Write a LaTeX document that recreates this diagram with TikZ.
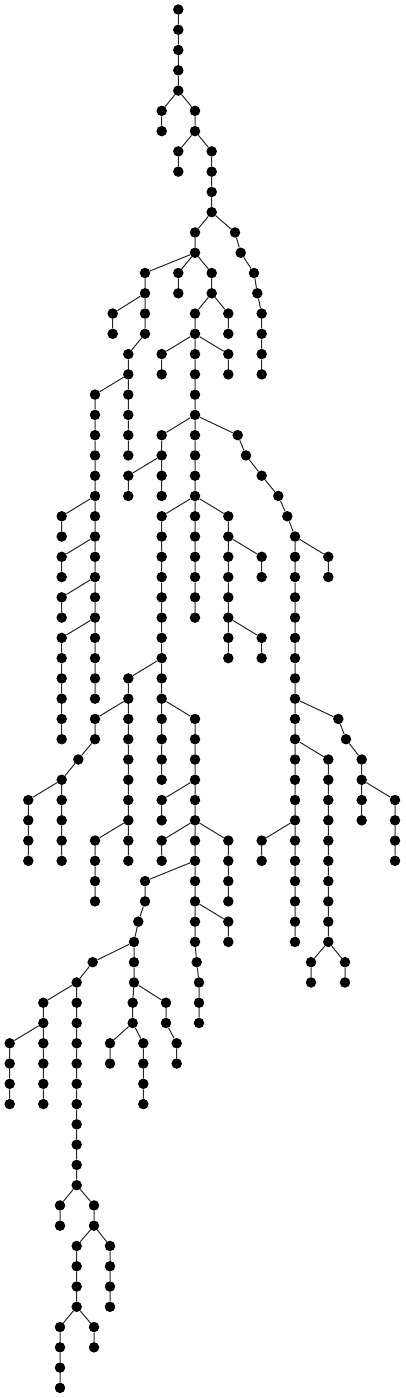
\documentclass[tikz,border=0pt]{standalone}
\usepackage{tikz}
\begin{document}
\begin{tikzpicture}[
    x=1pt, y=-20.27pt,
    dot/.style={circle, fill=black, inner sep=0pt, minimum size=10.5pt},
    link/.style={line width=1pt, draw=black!85}
]
\useasboundingbox (0pt,9.5pt) rectangle (406pt,-1388.5pt);
\node[dot] (n0x178) at (178.3,0) {};
\node[dot] (n1x178) at (178.3,1) {};
\node[dot] (n2x178) at (178.3,2) {};
\node[dot] (n3x178) at (178.3,3) {};
\node[dot] (n4x178) at (178.3,4) {};
\node[dot] (n5x162) at (161.7,5) {};
\node[dot] (n5x195) at (195,5) {};
\node[dot] (n6x162) at (161.7,6) {};
\node[dot] (n6x195) at (195,6) {};
\node[dot] (n7x178) at (178.3,7) {};
\node[dot] (n7x212) at (211.7,7) {};
\node[dot] (n8x178) at (178.3,8) {};
\node[dot] (n8x212) at (211.7,8) {};
\node[dot] (n9x212) at (211.7,9) {};
\node[dot] (n10x212) at (211.7,10) {};
\node[dot] (n11x195) at (195,11) {};
\node[dot] (n11x235) at (235,11) {};
\node[dot] (n12x195) at (195,12) {};
\node[dot] (n12x241) at (240.7,12) {};
\node[dot] (n13x145) at (145,13) {};
\node[dot] (n13x178) at (178.3,13) {};
\node[dot] (n13x212) at (211.7,13) {};
\node[dot] (n13x254) at (254,13) {};
\node[dot] (n14x145) at (145,14) {};
\node[dot] (n14x178) at (178.3,14) {};
\node[dot] (n14x212) at (211.7,14) {};
\node[dot] (n14x258) at (257.3,14) {};
\node[dot] (n15x113) at (112.7,15) {};
\node[dot] (n15x145) at (145,15) {};
\node[dot] (n15x195) at (195,15) {};
\node[dot] (n15x228) at (228.3,15) {};
\node[dot] (n15x262) at (261.7,15) {};
\node[dot] (n16x113) at (112.7,16) {};
\node[dot] (n16x145) at (145,16) {};
\node[dot] (n16x195) at (195,16) {};
\node[dot] (n16x228) at (228.3,16) {};
\node[dot] (n16x262) at (261.7,16) {};
\node[dot] (n17x128) at (128.3,17) {};
\node[dot] (n17x162) at (161.7,17) {};
\node[dot] (n17x195) at (195,17) {};
\node[dot] (n17x228) at (228.3,17) {};
\node[dot] (n17x262) at (261.7,17) {};
\node[dot] (n18x128) at (128.3,18) {};
\node[dot] (n18x162) at (161.7,18) {};
\node[dot] (n18x195) at (195,18) {};
\node[dot] (n18x228) at (228.3,18) {};
\node[dot] (n18x262) at (261.7,18) {};
\node[dot] (n19x95) at (95,19) {};
\node[dot] (n19x128) at (128.3,19) {};
\node[dot] (n19x195) at (195,19) {};
\node[dot] (n20x95) at (95,20) {};
\node[dot] (n20x128) at (128.3,20) {};
\node[dot] (n20x195) at (195,20) {};
\node[dot] (n21x95) at (95,21) {};
\node[dot] (n21x128) at (128.3,21) {};
\node[dot] (n21x162) at (161.7,21) {};
\node[dot] (n21x195) at (195,21) {};
\node[dot] (n21x238) at (237.7,21) {};
\node[dot] (n22x95) at (95,22) {};
\node[dot] (n22x128) at (128.3,22) {};
\node[dot] (n22x162) at (161.7,22) {};
\node[dot] (n22x195) at (195,22) {};
\node[dot] (n22x246) at (246,22) {};
\node[dot] (n23x95) at (95,23) {};
\node[dot] (n23x128) at (128.3,23) {};
\node[dot] (n23x162) at (161.7,23) {};
\node[dot] (n23x195) at (195,23) {};
\node[dot] (n23x262) at (261.7,23) {};
\node[dot] (n24x95) at (95,24) {};
\node[dot] (n24x128) at (128.3,24) {};
\node[dot] (n24x162) at (161.7,24) {};
\node[dot] (n24x195) at (195,24) {};
\node[dot] (n24x278) at (278.3,24) {};
\node[dot] (n25x61) at (61.7,25) {};
\node[dot] (n25x95) at (95,25) {};
\node[dot] (n25x162) at (161.7,25) {};
\node[dot] (n25x195) at (195,25) {};
\node[dot] (n25x228) at (228.3,25) {};
\node[dot] (n25x287) at (287.3,25) {};
\node[dot] (n26x61) at (61.7,26) {};
\node[dot] (n26x95) at (95,26) {};
\node[dot] (n26x162) at (161.7,26) {};
\node[dot] (n26x195) at (195,26) {};
\node[dot] (n26x228) at (228.3,26) {};
\node[dot] (n26x295) at (295,26) {};
\node[dot] (n27x61) at (61.7,27) {};
\node[dot] (n27x95) at (95,27) {};
\node[dot] (n27x162) at (161.7,27) {};
\node[dot] (n27x195) at (195,27) {};
\node[dot] (n27x228) at (228.3,27) {};
\node[dot] (n27x262) at (261.7,27) {};
\node[dot] (n27x295) at (295,27) {};
\node[dot] (n27x328) at (328.3,27) {};
\node[dot] (n28x61) at (61.7,28) {};
\node[dot] (n28x95) at (95,28) {};
\node[dot] (n28x162) at (161.7,28) {};
\node[dot] (n28x195) at (195,28) {};
\node[dot] (n28x228) at (228.3,28) {};
\node[dot] (n28x262) at (261.7,28) {};
\node[dot] (n28x295) at (295,28) {};
\node[dot] (n28x328) at (328.3,28) {};
\node[dot] (n29x61) at (61.7,29) {};
\node[dot] (n29x95) at (95,29) {};
\node[dot] (n29x162) at (161.7,29) {};
\node[dot] (n29x195) at (195,29) {};
\node[dot] (n29x228) at (228.3,29) {};
\node[dot] (n29x295) at (295,29) {};
\node[dot] (n30x61) at (61.7,30) {};
\node[dot] (n30x95) at (95,30) {};
\node[dot] (n30x162) at (161.7,30) {};
\node[dot] (n30x195) at (195,30) {};
\node[dot] (n30x228) at (228.3,30) {};
\node[dot] (n30x295) at (295,30) {};
\node[dot] (n31x61) at (61.7,31) {};
\node[dot] (n31x95) at (95,31) {};
\node[dot] (n31x162) at (161.7,31) {};
\node[dot] (n31x228) at (228.3,31) {};
\node[dot] (n31x262) at (261.7,31) {};
\node[dot] (n31x295) at (295,31) {};
\node[dot] (n32x61) at (61.7,32) {};
\node[dot] (n32x95) at (95,32) {};
\node[dot] (n32x162) at (161.7,32) {};
\node[dot] (n32x228) at (228.3,32) {};
\node[dot] (n32x262) at (261.7,32) {};
\node[dot] (n32x295) at (295,32) {};
\node[dot] (n33x61) at (61.7,33) {};
\node[dot] (n33x95) at (95,33) {};
\node[dot] (n33x128) at (128.3,33) {};
\node[dot] (n33x162) at (161.7,33) {};
\node[dot] (n33x295) at (295,33) {};
\node[dot] (n34x61) at (61.7,34) {};
\node[dot] (n34x95) at (95,34) {};
\node[dot] (n34x128) at (128.3,34) {};
\node[dot] (n34x162) at (161.7,34) {};
\node[dot] (n34x295) at (295,34) {};
\node[dot] (n35x61) at (61.7,35) {};
\node[dot] (n35x95) at (95,35) {};
\node[dot] (n35x128) at (128.3,35) {};
\node[dot] (n35x162) at (161.7,35) {};
\node[dot] (n35x195) at (195,35) {};
\node[dot] (n35x295) at (295,35) {};
\node[dot] (n35x338) at (338.3,35) {};
\node[dot] (n36x61) at (61.7,36) {};
\node[dot] (n36x95) at (95,36) {};
\node[dot] (n36x128) at (128.3,36) {};
\node[dot] (n36x162) at (161.7,36) {};
\node[dot] (n36x195) at (195,36) {};
\node[dot] (n36x295) at (295,36) {};
\node[dot] (n36x346) at (346,36) {};
\node[dot] (n37x78) at (78.3,37) {};
\node[dot] (n37x128) at (128.3,37) {};
\node[dot] (n37x162) at (161.7,37) {};
\node[dot] (n37x195) at (195,37) {};
\node[dot] (n37x295) at (295,37) {};
\node[dot] (n37x328) at (328.3,37) {};
\node[dot] (n37x362) at (361.7,37) {};
\node[dot] (n38x61) at (61.7,38) {};
\node[dot] (n38x128) at (128.3,38) {};
\node[dot] (n38x162) at (161.7,38) {};
\node[dot] (n38x195) at (195,38) {};
\node[dot] (n38x295) at (295,38) {};
\node[dot] (n38x328) at (328.3,38) {};
\node[dot] (n38x362) at (361.7,38) {};
\node[dot] (n39x28) at (28.3,39) {};
\node[dot] (n39x61) at (61.7,39) {};
\node[dot] (n39x128) at (128.3,39) {};
\node[dot] (n39x162) at (161.7,39) {};
\node[dot] (n39x195) at (195,39) {};
\node[dot] (n39x295) at (295,39) {};
\node[dot] (n39x328) at (328.3,39) {};
\node[dot] (n39x362) at (361.7,39) {};
\node[dot] (n39x395) at (395,39) {};
\node[dot] (n40x28) at (28.3,40) {};
\node[dot] (n40x61) at (61.7,40) {};
\node[dot] (n40x128) at (128.3,40) {};
\node[dot] (n40x162) at (161.7,40) {};
\node[dot] (n40x195) at (195,40) {};
\node[dot] (n40x295) at (295,40) {};
\node[dot] (n40x328) at (328.3,40) {};
\node[dot] (n40x362) at (361.7,40) {};
\node[dot] (n40x395) at (395,40) {};
\node[dot] (n41x28) at (28.3,41) {};
\node[dot] (n41x61) at (61.7,41) {};
\node[dot] (n41x95) at (95,41) {};
\node[dot] (n41x128) at (128.3,41) {};
\node[dot] (n41x162) at (161.7,41) {};
\node[dot] (n41x195) at (195,41) {};
\node[dot] (n41x228) at (228.3,41) {};
\node[dot] (n41x262) at (261.7,41) {};
\node[dot] (n41x295) at (295,41) {};
\node[dot] (n41x328) at (328.3,41) {};
\node[dot] (n41x395) at (395,41) {};
\node[dot] (n42x28) at (28.3,42) {};
\node[dot] (n42x61) at (61.7,42) {};
\node[dot] (n42x95) at (95,42) {};
\node[dot] (n42x128) at (128.3,42) {};
\node[dot] (n42x162) at (161.7,42) {};
\node[dot] (n42x195) at (195,42) {};
\node[dot] (n42x228) at (228.3,42) {};
\node[dot] (n42x262) at (261.7,42) {};
\node[dot] (n42x295) at (295,42) {};
\node[dot] (n42x328) at (328.3,42) {};
\node[dot] (n42x395) at (395,42) {};
\node[dot] (n43x95) at (95,43) {};
\node[dot] (n43x145) at (145,43) {};
\node[dot] (n43x195) at (195,43) {};
\node[dot] (n43x228) at (228.3,43) {};
\node[dot] (n43x295) at (295,43) {};
\node[dot] (n43x328) at (328.3,43) {};
\node[dot] (n44x95) at (95,44) {};
\node[dot] (n44x145) at (145,44) {};
\node[dot] (n44x195) at (195,44) {};
\node[dot] (n44x228) at (228.3,44) {};
\node[dot] (n44x295) at (295,44) {};
\node[dot] (n44x328) at (328.3,44) {};
\node[dot] (n45x138) at (138.3,45) {};
\node[dot] (n45x195) at (195,45) {};
\node[dot] (n45x228) at (228.3,45) {};
\node[dot] (n45x295) at (295,45) {};
\node[dot] (n45x328) at (328.3,45) {};
\node[dot] (n46x134) at (134,46) {};
\node[dot] (n46x195) at (195,46) {};
\node[dot] (n46x228) at (228.3,46) {};
\node[dot] (n46x295) at (295,46) {};
\node[dot] (n46x328) at (328.3,46) {};
\node[dot] (n47x93) at (92.7,47) {};
\node[dot] (n47x134) at (134,47) {};
\node[dot] (n47x197) at (196.7,47) {};
\node[dot] (n47x312) at (311,47) {};
\node[dot] (n47x345) at (345,47) {};
\node[dot] (n48x77) at (76.7,48) {};
\node[dot] (n48x134) at (134,48) {};
\node[dot] (n48x199) at (199,48) {};
\node[dot] (n48x312) at (311,48) {};
\node[dot] (n48x345) at (345,48) {};
\node[dot] (n49x43) at (43.3,49) {};
\node[dot] (n49x77) at (76.7,49) {};
\node[dot] (n49x133) at (132.7,49) {};
\node[dot] (n49x166) at (166,49) {};
\node[dot] (n49x199) at (199,49) {};
\node[dot] (n50x43) at (43.3,50) {};
\node[dot] (n50x77) at (76.7,50) {};
\node[dot] (n50x133) at (132.7,50) {};
\node[dot] (n50x166) at (166,50) {};
\node[dot] (n50x199) at (199,50) {};
\node[dot] (n51x10) at (9.7,51) {};
\node[dot] (n51x43) at (43.3,51) {};
\node[dot] (n51x77) at (76.7,51) {};
\node[dot] (n51x110) at (110,51) {};
\node[dot] (n51x143) at (143.3,51) {};
\node[dot] (n51x177) at (176.7,51) {};
\node[dot] (n52x10) at (9.7,52) {};
\node[dot] (n52x43) at (43.3,52) {};
\node[dot] (n52x77) at (76.7,52) {};
\node[dot] (n52x110) at (110,52) {};
\node[dot] (n52x143) at (143.3,52) {};
\node[dot] (n52x177) at (176.7,52) {};
\node[dot] (n53x10) at (9.7,53) {};
\node[dot] (n53x43) at (43.3,53) {};
\node[dot] (n53x77) at (76.7,53) {};
\node[dot] (n53x143) at (143.3,53) {};
\node[dot] (n54x10) at (9.7,54) {};
\node[dot] (n54x43) at (43.3,54) {};
\node[dot] (n54x77) at (76.7,54) {};
\node[dot] (n54x143) at (143.3,54) {};
\node[dot] (n55x77) at (76.7,55) {};
\node[dot] (n56x77) at (76.7,56) {};
\node[dot] (n57x77) at (76.7,57) {};
\node[dot] (n58x77) at (76.7,58) {};
\node[dot] (n59x60) at (60,59) {};
\node[dot] (n59x94) at (94,59) {};
\node[dot] (n60x60) at (60,60) {};
\node[dot] (n60x94) at (94,60) {};
\node[dot] (n61x77) at (76.7,61) {};
\node[dot] (n61x110) at (110,61) {};
\node[dot] (n62x77) at (76.7,62) {};
\node[dot] (n62x110) at (110,62) {};
\node[dot] (n63x77) at (76.7,63) {};
\node[dot] (n63x110) at (110,63) {};
\node[dot] (n64x77) at (76.7,64) {};
\node[dot] (n64x110) at (110,64) {};
\node[dot] (n65x60) at (60,65) {};
\node[dot] (n65x94) at (94,65) {};
\node[dot] (n66x60) at (60,66) {};
\node[dot] (n66x94) at (94,66) {};
\node[dot] (n67x60) at (60,67) {};
\node[dot] (n68x60) at (60,68) {};
\draw[link] (n0x178) -- (n1x178) -- (n2x178) -- (n3x178) -- (n4x178) -- (n5x195) -- (n6x195) -- (n7x212) -- (n8x212) -- (n9x212) -- (n10x212)
  -- (n11x195) -- (n12x195) -- (n13x212) -- (n14x212) -- (n15x195) -- (n16x195) -- (n17x195) -- (n18x195) -- (n19x195) -- (n20x195)
  -- (n21x195) -- (n22x195) -- (n23x195) -- (n24x195) -- (n25x195) -- (n26x195) -- (n27x195) -- (n28x195) -- (n29x195) -- (n30x195);
\draw[link] (n4x178) -- (n5x162) -- (n6x162);
\draw[link] (n6x195) -- (n7x178) -- (n8x178);
\draw[link] (n10x212) -- (n11x235) -- (n12x241) -- (n13x254) -- (n14x258) -- (n15x262) -- (n16x262) -- (n17x262) -- (n18x262);
\draw[link] (n12x195) -- (n13x145) -- (n14x145) -- (n15x145) -- (n16x145) -- (n17x128) -- (n18x128) -- (n19x128) -- (n20x128) -- (n21x128) -- (n22x128);
\draw[link] (n14x145) -- (n15x113) -- (n16x113);
\draw[link] (n12x195) -- (n13x178) -- (n14x178);
\draw[link] (n14x212) -- (n15x228) -- (n16x228);
\draw[link] (n16x195) -- (n17x162) -- (n18x162);
\draw[link] (n16x195) -- (n17x228) -- (n18x228);
\draw[link] (n18x128) -- (n19x95) -- (n20x95) -- (n21x95) -- (n22x95) -- (n23x95) -- (n24x95) -- (n25x95) -- (n26x95) -- (n27x95)
  -- (n28x95) -- (n29x95) -- (n30x95) -- (n31x95) -- (n32x95) -- (n33x95) -- (n34x95);
\draw[link] (n24x95) -- (n25x61) -- (n26x61);
\draw[link] (n26x95) -- (n27x61) -- (n28x61);
\draw[link] (n28x95) -- (n29x61) -- (n30x61);
\draw[link] (n30x95) -- (n31x61) -- (n32x61) -- (n33x61) -- (n34x61) -- (n35x61) -- (n36x61);
\draw[link] (n20x195) -- (n21x162) -- (n22x162) -- (n23x162) -- (n24x162);
\draw[link] (n22x162) -- (n23x128) -- (n24x128);
\draw[link] (n20x195) -- (n21x238) -- (n22x246) -- (n23x262) -- (n24x278) -- (n25x287) -- (n26x295) -- (n27x295) -- (n28x295)
  -- (n29x295) -- (n30x295) -- (n31x295) -- (n32x295) -- (n33x295) -- (n34x295) -- (n35x295) -- (n36x295) -- (n37x295) -- (n38x295)
  -- (n39x295) -- (n40x295) -- (n41x295) -- (n42x295) -- (n43x295) -- (n44x295) -- (n45x295) -- (n46x295);
\draw[link] (n26x295) -- (n27x328) -- (n28x328);
\draw[link] (n34x295) -- (n35x338) -- (n36x346) -- (n37x362) -- (n38x362) -- (n39x362) -- (n40x362);
\draw[link] (n38x362) -- (n39x395) -- (n40x395) -- (n41x395) -- (n42x395);
\draw[link] (n36x295) -- (n37x328) -- (n38x328) -- (n39x328) -- (n40x328) -- (n41x328) -- (n42x328) -- (n43x328) -- (n44x328)
  -- (n45x328) -- (n46x328) -- (n47x312) -- (n48x312);
\draw[link] (n46x328) -- (n47x345) -- (n48x345);
\draw[link] (n40x295) -- (n41x262) -- (n42x262);
\draw[link] (n24x195) -- (n25x162) -- (n26x162) -- (n27x162) -- (n28x162) -- (n29x162) -- (n30x162) -- (n31x162) -- (n32x162)
  -- (n33x162) -- (n34x162) -- (n35x162) -- (n36x162) -- (n37x162) -- (n38x162);
\draw[link] (n24x195) -- (n25x228) -- (n26x228) -- (n27x228) -- (n28x228) -- (n29x228) -- (n30x228) -- (n31x228) -- (n32x228);
\draw[link] (n26x228) -- (n27x262) -- (n28x262);
\draw[link] (n30x228) -- (n31x262) -- (n32x262);
\draw[link] (n32x162) -- (n33x128) -- (n34x128) -- (n35x128) -- (n36x128) -- (n37x128) -- (n38x128) -- (n39x128) -- (n40x128)
  -- (n41x128) -- (n42x128);
\draw[link] (n34x128) -- (n35x95) -- (n36x95) -- (n37x78) -- (n38x61) -- (n39x61) -- (n40x61) -- (n41x61) -- (n42x61);
\draw[link] (n38x61) -- (n39x28) -- (n40x28) -- (n41x28) -- (n42x28);
\draw[link] (n40x128) -- (n41x95) -- (n42x95) -- (n43x95) -- (n44x95);
\draw[link] (n34x162) -- (n35x195) -- (n36x195) -- (n37x195) -- (n38x195) -- (n39x195) -- (n40x195) -- (n41x195) -- (n42x195)
  -- (n43x195) -- (n44x195) -- (n45x195) -- (n46x195) -- (n47x197) -- (n48x199) -- (n49x199) -- (n50x199);
\draw[link] (n38x195) -- (n39x162) -- (n40x162);
\draw[link] (n40x195) -- (n41x162) -- (n42x162);
\draw[link] (n40x195) -- (n41x228) -- (n42x228) -- (n43x228) -- (n44x228);
\draw[link] (n42x195) -- (n43x145) -- (n44x145) -- (n45x138) -- (n46x134) -- (n47x134) -- (n48x134) -- (n49x133) -- (n50x133)
  -- (n51x143) -- (n52x143) -- (n53x143) -- (n54x143);
\draw[link] (n44x195) -- (n45x228) -- (n46x228);
\draw[link] (n46x134) -- (n47x93) -- (n48x77) -- (n49x77) -- (n50x77) -- (n51x77) -- (n52x77) -- (n53x77) -- (n54x77) -- (n55x77)
  -- (n56x77) -- (n57x77) -- (n58x77) -- (n59x94) -- (n60x94) -- (n61x77) -- (n62x77) -- (n63x77) -- (n64x77) -- (n65x60)
  -- (n66x60) -- (n67x60) -- (n68x60);
\draw[link] (n48x77) -- (n49x43) -- (n50x43) -- (n51x43) -- (n52x43) -- (n53x43) -- (n54x43);
\draw[link] (n50x43) -- (n51x10) -- (n52x10) -- (n53x10) -- (n54x10);
\draw[link] (n50x133) -- (n51x110) -- (n52x110);
\draw[link] (n48x134) -- (n49x166) -- (n50x166) -- (n51x177) -- (n52x177);
\draw[link] (n58x77) -- (n59x60) -- (n60x60);
\draw[link] (n60x94) -- (n61x110) -- (n62x110) -- (n63x110) -- (n64x110);
\draw[link] (n64x77) -- (n65x94) -- (n66x94);
\end{tikzpicture}
\end{document}
